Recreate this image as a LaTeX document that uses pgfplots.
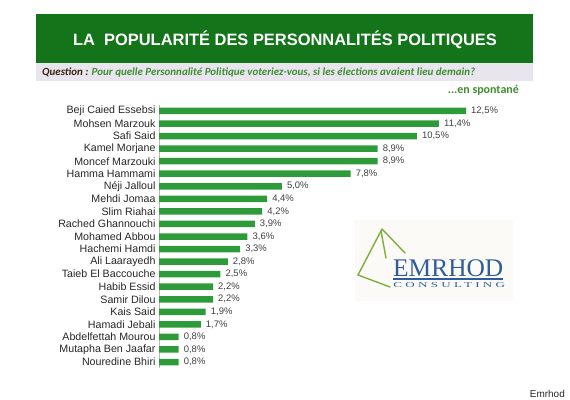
\documentclass[border=0pt]{standalone}
\usepackage{fontspec}
\setmainfont{Liberation Sans}
\newfontfamily\carlito{Carlito}
\newfontfamily\lserif{Liberation Serif}
\usepackage{pgfplots}
\pgfplotsset{compat=1.18}
\definecolor{banner}{HTML}{13741A}
\definecolor{bargreen}{HTML}{2E9B3A}
\definecolor{qgreen}{HTML}{3E8E2E}
\definecolor{qbrown}{HTML}{3A2410}
\definecolor{lav}{HTML}{E8E5EF}
\definecolor{logogreen}{HTML}{7AB03A}
\definecolor{logoblue}{HTML}{2F5C9A}
\definecolor{logobg}{HTML}{FCFAF7}
\begin{document}
\begin{tikzpicture}[x=1bp,y=1bp]
\path[use as bounding box] (0,0) rectangle (570,399);
% banner
\fill[banner] (36,399-14) rectangle (533,399-63);
\node[anchor=base, text=white, font=\fontsize{16.5}{18}\selectfont\bfseries, inner sep=0] at (285,399-45) {LA\ \ POPULARITÉ DES PERSONNALITÉS POLITIQUES};
\fill[lav] (36,399-63) rectangle (533,399-81);
\node[anchor=base west, inner sep=0, font=\carlito\fontsize{11}{13}\selectfont\bfseries\itshape] at (42,399-75.5) {\textcolor{qbrown}{Question :} \textcolor{qgreen}{Pour quelle Personnalité Politique voteriez-vous, si les élections avaient lieu demain?}};
\node[anchor=base east, inner sep=0, text=qgreen, font=\carlito\fontsize{12}{14}\selectfont\bfseries] at (519,399-93) {...en spontané};
% logo
\fill[logobg] (355,399-220) rectangle (513,399-301);
\begin{scope}[draw=logogreen, line width=1.4bp, line cap=round]
\draw (382,399-229) -- (358,399-275) -- (390,399-287);
\draw (382,399-229) -- (405,399-253);
\draw (381,399-231) -- (386,399-258);
\end{scope}
\node[anchor=base west, inner sep=0, text=logoblue, font=\lserif\fontsize{25.5}{28}\selectfont] at (393,399-276) {EMRHOD};
\draw[logoblue, line width=1.2bp] (393,399-279) -- (503,399-279);
\node[anchor=base west, inner sep=0, text=logoblue, xscale=1.75, font=\lserif\fontsize{7.5}{9}\selectfont\addfontfeature{LetterSpace=25}] at (393,399-287.5) {CONSULTING};
\node[anchor=base east, inner sep=0, text=black!85, font=\fontsize{10}{12}\selectfont] at (565,399-397) {Emrhod};
% chart
\begin{axis}[
  at={(159bp,30.72bp)}, anchor=south west,
  scale only axis, width=307bp, height=263.56bp,
  xmin=0, xmax=12.5, ymin=-0.5, ymax=20.5,
  xbar, bar width=6.5bp,
  axis x line=none, axis y line=left,
  y axis line style={-, draw=gray!55, line width=0.8bp},
  ytick={0,...,20},
  yticklabels={Nouredine Bhiri, Mutapha Ben Jaafar, Abdelfettah Mourou, Hamadi Jebali, Kais Said, Samir Dilou, Habib Essid, Taieb El Baccouche, Ali Laarayedh, Hachemi Hamdi, Mohamed Abbou, Rached Ghannouchi, Slim Riahai, Mehdi Jomaa, Néji Jalloul, Hamma Hammami, Moncef Marzouki, Kamel Morjane, Safi Said, Mohsen Marzouk, Beji Caied Essebsi},
  major tick length=0,
  yticklabel style={font=\fontsize{10.7}{12}\selectfont, text=black!85},
  /pgf/number format/assume math mode=true,
  point meta=x,
  nodes near coords={\pgfmathprintnumber[fixed,fixed zerofill,precision=1,use comma]{\pgfplotspointmeta}\%},
  nodes near coords style={font=\fontsize{9.5}{11}\selectfont, text=black!75, anchor=west, inner sep=0pt, xshift=5bp},
  clip=false,
]
\addplot[fill=bargreen, draw=none] coordinates {
(0.8,0) (0.8,1) (0.8,2) (1.7,3) (1.9,4) (2.2,5) (2.2,6) (2.5,7) (2.8,8) (3.3,9) (3.6,10)
(3.9,11) (4.2,12) (4.4,13) (5.0,14) (7.8,15) (8.9,16) (8.9,17) (10.5,18) (11.4,19) (12.5,20)};
\end{axis}
\end{tikzpicture}
\end{document}
